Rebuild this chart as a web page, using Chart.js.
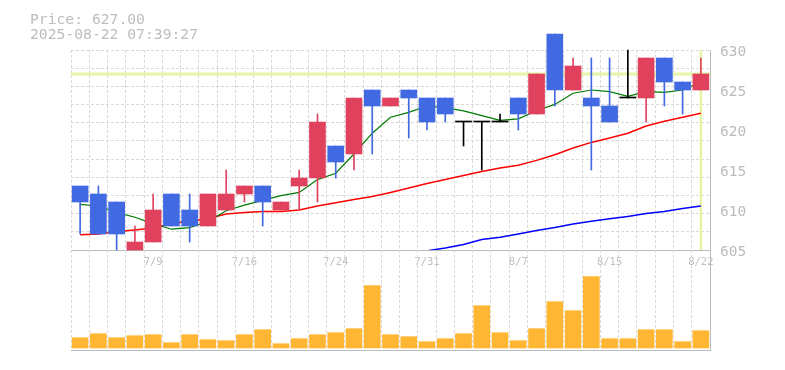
<!DOCTYPE html>
<html>
<head>
  <meta charset="utf-8">
  <title>Price / Volume</title>
  <script src="https://cdn.jsdelivr.net/npm/chart.js"></script>
  <style>
    body { margin: 0; padding: 0; background: #fff; }
    #wrap { position: relative; width: 785px; height: 370px; }
    canvas { position: absolute; left: 0; top: 0; }
    .info {
      position: absolute; left: 30px; top: 11px; z-index: 2;
      font: 14.7px "DejaVu Sans Mono", monospace; line-height: 15px;
      color: #bdbdbd; white-space: pre;
    }
  </style>
</head>
<body>
<div id="wrap">
  <canvas id="priceChart" width="785" height="370"></canvas>
  <canvas id="volChart" width="785" height="370"></canvas>
  <div class="info" id="info"></div>
</div>
<script>
  // daily data 7/3 - 8/22
  const dates = ['7/3','7/4','7/7','7/8','7/9','7/10','7/11','7/14','7/15','7/16',
                 '7/17','7/18','7/22','7/23','7/24','7/25','7/28','7/29','7/30','7/31',
                 '8/1','8/4','8/5','8/6','8/7','8/8','8/12','8/13','8/14','8/15',
                 '8/18','8/19','8/20','8/21','8/22'];
  const opens  = [613,612,611,605,606,612,610,608,610,612, 613,610,613,614,618,617,625,623,625,624,
                  624,621,621,621,624,622,632,625,624,623, 624,624,629,626,625];
  const highs  = [613,613,611,608,612,612,612,612,615,613, 613,611,615,622,618,624,625,624,625,624,
                  624,621,621,622,624,627,632,629,629,629, 630,629,629,626,629];
  const lows   = [607,607,605,605,606,608,606,608,610,611, 608,610,610,611,614,615,617,623,619,620,
                  621,618,615,621,620,622,623,625,615,621, 624,621,623,622,625];
  const closes = [611,607,607,606,610,608,608,612,612,613, 611,611,614,621,616,624,623,624,624,621,
                  622,621,621,621,622,627,625,628,623,621, 624,629,626,625,627];
  const volumes = [10300,14300,10300,12300,13300,5300,13300,8300,7300,13300,
                   18300,4300,9300,13300,15300,19300,62300,13300,11300,6300,
                   9300,14300,42300,15300,7300,19300,46300,37300,71300,9300,
                   9300,18300,18300,6300,17300];
  const ma5  = [610.7,610.5,609.7,609.1,608.3,607.6,607.8,608.6,609.9,610.6,
                611.2,611.8,612.2,613.8,614.6,617.0,619.6,621.6,622.2,623.0,
                622.8,622.4,621.8,621.2,621.4,622.4,623.2,624.6,625.0,624.8,
                624.2,624.8,624.7,625.0,626.0];
  const ma25 = [606.9,607.0,607.3,607.5,607.75,608.3,608.6,608.95,609.5,609.7,
                609.8,609.8,610.0,610.5,610.9,611.3,611.7,612.2,612.75,613.3,
                613.8,614.3,614.8,615.25,615.6,616.2,616.9,617.75,618.45,619.0,
                619.6,620.5,621.1,621.6,622.1];
  const ma75 = [null,null,null,null,null,null,null,null,null,null,
                null,null,null,null,null,null,null,null,null,604.9,
                605.25,605.7,606.3,606.6,607.0,607.45,607.8,608.25,608.6,608.9,
                609.2,609.55,609.8,610.2,610.5];
  const tickDates = ['7/9','7/16','7/24','7/31','8/7','8/15','8/22'];
  const priceTicks = [605, 630, 5]; // min, max, step
  const lastPrice = 627.00;
  const stamp = '2025-08-22 07:39:27';

  document.getElementById('info').textContent = 'Price: ' + lastPrice.toFixed(2) + '\n' + stamp;

  const UP = '#e0425e', DOWN = '#4169e1', FLAT = '#000000';
  const candleColors = closes.map((c, i) => c > opens[i] ? UP : (c < opens[i] ? DOWN : FLAT));

  const GRID = '#d9d9d9', AXIS = '#bbbbbb';
  const mono = 'DejaVu Sans Mono';

  // current price line + last day line, behind the candles
  const markerLines = {
    id: 'markerLines',
    beforeDatasetsDraw(chart) {
      const { ctx, chartArea: a, scales: { x, y } } = chart;
      const py = y.getPixelForValue(lastPrice);
      const px = x.getPixelForValue(dates.length - 1);
      ctx.save();
      ctx.strokeStyle = '#e4f5a6';
      ctx.lineWidth = 3;
      ctx.beginPath(); ctx.moveTo(a.left, py); ctx.lineTo(a.right, py); ctx.stroke();
      ctx.lineWidth = 2.5;
      ctx.beginPath(); ctx.moveTo(px, a.top); ctx.lineTo(px, a.bottom); ctx.stroke();
      ctx.restore();
    }
  };

  const priceChart = new Chart(document.getElementById('priceChart'), {
    type: 'bar',
    data: {
      labels: dates,
      datasets: [
        {
          label: 'body',
          data: dates.map((d, i) => [opens[i], closes[i]]),
          backgroundColor: candleColors,
          barThickness: 16,
          minBarLength: 1,
          grouped: false,
          clip: false,
          yAxisID: 'y'
        },
        {
          label: 'wick',
          data: dates.map((d, i) => [lows[i], highs[i]]),
          backgroundColor: candleColors,
          barThickness: 1,
          grouped: false,
          clip: false,
          yAxisID: 'y'
        },
        { type: 'line', label: 'MA5', data: ma5, borderColor: '#007a00', borderWidth: 1.2,
          pointRadius: 0, tension: 0, yAxisID: 'y' },
        { type: 'line', label: 'MA25', data: ma25, borderColor: '#ff0000', borderWidth: 1.5,
          pointRadius: 0, tension: 0, yAxisID: 'y' },
        { type: 'line', label: 'MA75', data: ma75, borderColor: '#0000ff', borderWidth: 1.5,
          pointRadius: 0, tension: 0, yAxisID: 'y' }
      ]
    },
    options: {
      responsive: false,
      animation: false,
      devicePixelRatio: 1,
      layout: { padding: { left: 71, top: 50, right: 0, bottom: 0 } },
      plugins: { legend: { display: false }, tooltip: { enabled: false } },
      scales: {
        x: {
          offset: true,
          grid: { offset: true, color: GRID, drawTicks: false },
          border: { color: AXIS, dash: [3, 2] },
          ticks: {
            autoSkip: false, maxRotation: 0, padding: 6, color: '#c0c0c0',
            font: { family: mono, size: 10.5 },
            callback: (v, i) => tickDates.includes(dates[i]) ? dates[i] : ''
          },
          afterFit(s) { s.height = 120; }
        },
        y: {
          position: 'right',
          min: priceTicks[0], max: priceTicks[1],
          grid: { display: false, drawTicks: false },
          border: { color: AXIS },
          ticks: {
            stepSize: priceTicks[2], padding: 10, labelOffset: 2.5, color: '#bbbbbb',
            font: { family: mono, size: 14.5 },
            callback: v => String(v)
          },
          afterFit(s) { s.width = 75; }
        },
        yg: {
          type: 'linear',
          position: 'left',
          min: 0, max: 11,
          ticks: { display: false, stepSize: 1 },
          grid: { color: GRID, drawTicks: false },
          border: { display: false, dash: [3, 2] },
          afterFit(s) { s.width = 0; }
        }
      }
    },
    plugins: [markerLines]
  });

  const volChart = new Chart(document.getElementById('volChart'), {
    type: 'bar',
    data: {
      labels: dates,
      datasets: [{ label: 'Volume', data: volumes, backgroundColor: '#ffb733', barThickness: 16 }]
    },
    options: {
      responsive: false,
      animation: false,
      devicePixelRatio: 1,
      layout: { padding: { left: 71, top: 250, right: 0, bottom: 0 } },
      plugins: { legend: { display: false }, tooltip: { enabled: false } },
      scales: {
        x: {
          offset: true,
          grid: { offset: true, color: GRID, drawTicks: false },
          border: { color: AXIS, dash: [3, 2] },
          ticks: { display: false },
          afterFit(s) { s.height = 20; }
        },
        y: {
          position: 'right',
          min: -2000, max: 98000,
          grid: { display: false, drawTicks: false },
          border: { color: AXIS },
          ticks: { display: false },
          afterFit(s) { s.width = 75; }
        }
      }
    }
  });
</script>
</body>
</html>
